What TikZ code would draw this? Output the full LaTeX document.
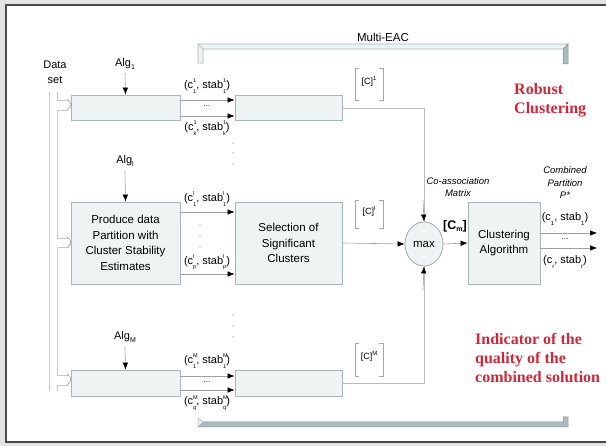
\documentclass[tikz,border=0pt]{standalone}
\usepackage{fontspec}
\setmainfont{Liberation Sans}
\newfontfamily\serifb{Liberation Serif}
\usetikzlibrary{arrows.meta,shapes.geometric}
\definecolor{boxfill}{HTML}{EEF4F4}
\definecolor{boxline}{HTML}{A9B6B6}
\definecolor{pipec}{HTML}{C4C8C8}
\definecolor{redtxt}{HTML}{D0283A}
\definecolor{bargray}{HTML}{A9BDBD}
\definecolor{framec}{HTML}{4A4A4A}
\newcommand{\cst}[3]{#1\rlap{\raisebox{1.0ex}{\fontsize{5.5}{5.5}\selectfont#2}}\raisebox{-0.8ex}{\fontsize{5.5}{5.5}\selectfont#3}}
\newcommand{\csb}[2]{#1\raisebox{-0.7ex}{\fontsize{6}{6}\selectfont#2}}
\newcommand{\subx}[1]{\raisebox{-0.4ex}{\fontsize{7}{7}\selectfont#1}}
\begin{document}
\begin{tikzpicture}[x=1pt,y=-1pt,
  font=\fontsize{11}{13}\selectfont,
  proc/.style={draw=boxline, fill=boxfill, line width=0.8pt, inner sep=0pt, align=center},
  arr/.style={-{Latex[length=7pt,width=5.5pt,color=black]}, line width=0.6pt, draw=gray!75},
  conn/.style={line width=0.6pt, draw=gray!55},
  pipe/.style={line width=0.8pt, draw=pipec},
  lbl/.style={inner sep=0pt},
  red/.style={inner sep=0pt, text=redtxt, font=\serifb\bfseries\fontsize{16}{19}\selectfont, align=left, anchor=north west},
  ital/.style={inner sep=0pt, font=\itshape\fontsize{9.5}{12.5}\selectfont, align=center},
  brk/.style={line width=0.8pt, draw=gray!70}]
\useasboundingbox (0,0) rectangle (606,446);
\fill[gray!22] (0,0) rectangle (606,446);
\fill[white] (6,5) rectangle (606,442);
\draw[line width=2.2pt, framec] (606,5) -- (6,5) -- (6,442) -- (606,442);

% Multi-EAC bracket
\node[lbl, font=\fontsize{11.5}{13}\selectfont] (meac) at (383,37) {Multi-EAC};
\filldraw[fill=boxfill, draw=boxline, line width=0.7pt] (198,63) -- (198,44) -- (568,44) -- (563,49) -- (203,49) -- (203,63) -- cycle;
\draw[boxline, line width=0.7pt] (198,44) -- (203,49);
\filldraw[fill=bargray, draw=boxline!80!black, line width=0.5pt] (563,49) -- (568,44) -- (568,64) -- (563,64) -- cycle;
% bottom bar
\filldraw[fill=bargray, draw=boxline!80!black, line width=0.5pt] (203,422) -- (563,422) -- (563,417) -- (568,417) -- (568,427) -- (198,427) -- cycle;
\filldraw[fill=boxfill, draw=boxline, line width=0.5pt] (198,418) -- (203,422) -- (198,427) -- cycle;

% data set
\node[lbl, align=center, font=\fontsize{11}{15}\selectfont] (ds) at (55,72) {Data\\set};
\draw[pipe] (49,92) -- (49,391);
\draw[pipe] (57,92) -- (57,100) -- (68,100);
\draw[pipe] (68,110) -- (57,110) -- (57,238) -- (68,238);
\draw[pipe] (68,247) -- (57,247) -- (57,375) -- (68,375);
\draw[pipe] (68,385) -- (57,385) -- (57,391);
\foreach \yy in {100,238,375}{
  \draw[pipe, line width=0.7pt, draw=gray!70] (67,\yy-1) .. controls (72,\yy+2) and (72,\yy+7) .. (67,\yy+10);
}

% boxes
\node[proc, minimum width=109pt, minimum height=25pt] (b1) at (125.5,107.5) {};
\node[proc, minimum width=107pt, minimum height=25pt] (b2) at (288.5,107.5) {};
\node[proc, minimum width=109pt, minimum height=82pt, font=\fontsize{11.5}{15.5}\selectfont] (m1) at (125.5,243) {Produce data\\Partition with\\Cluster Stability\\Estimates};
\node[proc, minimum width=107pt, minimum height=82pt, font=\fontsize{11.5}{15.5}\selectfont] (m2) at (288.5,243) {Selection of\\Significant\\Clusters};
\node[proc, minimum width=109pt, minimum height=26pt] (b3) at (125.5,383) {};
\node[proc, minimum width=107pt, minimum height=26pt] (b4) at (288.5,383) {};
\node[proc, minimum width=72pt, minimum height=82pt, font=\fontsize{11.5}{15.5}\selectfont] (ca) at (504,243) {Clustering\\Algorithm};
\node[ellipse, draw=gray!70, fill=boxfill, line width=0.8pt, minimum width=38pt, minimum height=44pt, inner sep=0pt, font=\fontsize{11.5}{13}\selectfont] (mx) at (424,244) {max};

% Alg labels
\node[lbl] (a1) at (125,64) {Alg\subx{1}};
\node[lbl] (al) at (125,161) {Alg\subx{l}};
\node[lbl] (am) at (125,337) {Alg\subx{M}};
\draw[arr] (125,73) -- (b1.north);
\draw[arr] (125,171) -- (m1.north);
\draw[arr] (125,347) -- (b3.north);

% row 1 arrows
\draw[arr] (b1.east |- 0,100) -- (b2.west |- 0,100);
\draw[arr] (b1.east |- 0,116) -- (b2.west |- 0,116);
\node[lbl] (l11) at (207,86) {(\cst{c}{1}{1}, \cst{stab}{1}{1})};
\node[lbl, font=\fontsize{8}{8}\selectfont] (d11) at (207,106) {...};
\node[lbl] (l1k) at (207,128) {(\cst{c}{1}{k}, \cst{stab}{1}{k})};

% row l arrows
\draw[arr] (m1.east |- 0,212) -- (m2.west |- 0,212);
\draw[arr] (m1.east |- 0,274) -- (m2.west |- 0,274);
\node[lbl] (ll1) at (207,199) {(\cst{c}{l}{1}, \cst{stab}{l}{1})};
\node[lbl] (llp) at (207,262) {(\cst{c}{l}{p}, \cst{stab}{l}{p})};
\foreach \yy in {225,236,247}{\fill[gray] (200,\yy) circle (0.6pt);}

% row M arrows
\draw[arr] (b3.east |- 0,376) -- (b4.west |- 0,376);
\draw[arr] (b3.east |- 0,390) -- (b4.west |- 0,390);
\node[lbl] (lm1) at (207,361) {(\cst{c}{M}{1}, \cst{stab}{M}{1})};
\node[lbl, font=\fontsize{8}{8}\selectfont] (dm) at (207,382) {...};
\node[lbl] (lmq) at (207,403) {(\cst{c}{M}{q}, \cst{stab}{M}{q})};

% vertical dots
\foreach \yy in {143,153,164,315,326,337}{\fill[gray] (233,\yy) circle (0.6pt);}

% to max
\draw[conn] (b2.east |- 0,108) -| (mx.north);
\draw[arr] (423,200) -- (mx.north);
\draw[conn] (b4.east |- 0,383) -| (mx.south);
\draw[arr] (423,290) -- (mx.south);
\draw[arr] (m2.east) -- (mx.west);
\draw[arr] (mx.east) -- (ca.west);

% brackets
\foreach \nm/\yt/\yb/\sup in {c1/68/100/1, cl/200/228/l, cm/343/376/M}{
  \draw[brk] (359,\yt) -- (355,\yt) -- (355,\yb) -- (359,\yb);
  \draw[brk] (379,\yt) -- (383,\yt) -- (383,\yb) -- (379,\yb);
  \node[lbl, font=\fontsize{9}{9}\selectfont] (\nm) at (369,{(\yt+\yb)/2-3}) {[C]\raisebox{0.8ex}{\fontsize{6}{6}\selectfont\sup}};
}

% labels near max
\node[ital] (cam) at (458,187) {Co-association\\Matrix};
\node[lbl, font=\bfseries\fontsize{12.5}{13}\selectfont] (cmx) at (455,226) {[C\subx{m}]};
\node[ital] (cp) at (565,183) {Combined\\Partition\\P*};

% outputs
\coordinate (o1) at (597,233);
\coordinate (o2) at (597,248);
\draw[arr] (ca.east |- o1) -- (o1);
\draw[arr] (ca.east |- o2) -- (o2);
\node[lbl] (oc1) at (565,219) {(\csb{c}{1}, \csb{stab}{1})};
\node[lbl, font=\fontsize{8}{8}\selectfont] (od) at (565,239) {...};
\node[lbl] (ocr) at (565,262) {(\csb{c}{r}, \csb{stab}{r})};

% red texts
\node[red] (rob) at (514,83) {Robust\\Clustering};
\node[red] (ind) at (475,333) {Indicator of the\\quality of the\\combined solution};
\end{tikzpicture}
\end{document}
